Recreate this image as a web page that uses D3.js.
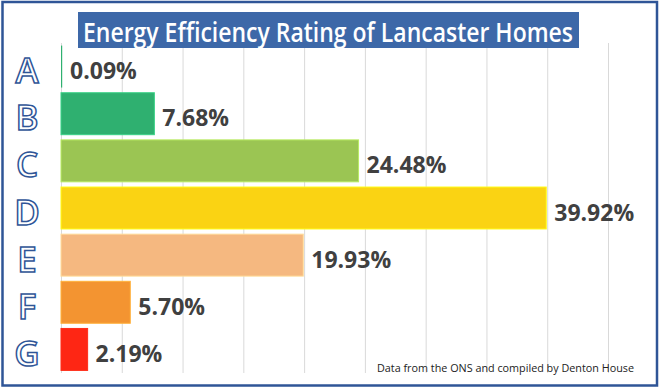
<!DOCTYPE html>
<html>
<head>
<meta charset="utf-8">
<script src="https://cdn.jsdelivr.net/npm/d3@7"></script>
<style>
  body { margin: 0; background: #fff; }
</style>
</head>
<body>
<div id="chart"></div>
<script>
var width = 662,
    height = 389;

// ratings and share of homes (%)
var ratings = ["A", "B", "C", "D", "E", "F", "G"];
var shares = [0.09, 7.68, 24.48, 39.92, 19.93, 5.70, 2.19];
var barColors = ["#2fb070", "#2fb070", "#9bc553", "#fad313", "#f5b880", "#f39431", "#fe2614"];
var gridTicks = [0, 5, 10, 15, 20, 25, 30, 35, 40, 45];

var titleText = "Energy Efficiency Rating of Lancaster Homes";
var sourceText = "Data from the ONS and compiled by Denton House";

var x = d3.scaleLinear()
    .domain([0, 45])
    .range([61, 608]);

var y = d3.scaleBand()
    .domain(ratings)
    .range([43, 373])
    .paddingInner(0.11)
    .paddingOuter(0.055);

var svg = d3.select("#chart").append("svg")
    .attr("width", width)
    .attr("height", height);

// gridlines
svg.selectAll(".grid")
    .data(gridTicks)
    .enter().append("line")
    .attr("class", "grid")
    .attr("x1", function (d) { return x(d) + 0.5; })
    .attr("x2", function (d) { return x(d) + 0.5; })
    .attr("y1", 43)
    .attr("y2", 373)
    .attr("stroke", "#d9d9d9")
    .attr("stroke-width", 1);

// bars
svg.selectAll(".bar")
    .data(ratings)
    .enter().append("rect")
    .attr("class", "bar")
    .attr("x", x(0))
    .attr("y", function (d) { return y(d); })
    .attr("width", function (d, i) { return Math.max(1.2, x(shares[i]) - x(0)); })
    .attr("height", y.bandwidth())
    .attr("fill", function (d, i) { return barColors[i]; })
    .attr("stroke", function (d, i) { return d3.color(barColors[i]).brighter(0.5); })
    .attr("stroke-width", function (d, i) { return i === 0 ? 0 : 1; });

// value labels
svg.selectAll(".val")
    .data(ratings)
    .enter().append("text")
    .attr("class", "val")
    .attr("x", function (d, i) { return x(shares[i]) + 8; })
    .attr("y", function (d) { return y(d) + y.bandwidth() / 2 + 12.5; })
    .attr("font-family", "Open Sans, sans-serif")
    .attr("font-weight", 700)
    .attr("font-size", 23)
    .attr("fill", "#404040")
    .text(function (d, i) { return shares[i].toFixed(2) + "%"; });

// outlined rating letters
svg.selectAll(".letter")
    .data(ratings)
    .enter().append("text")
    .attr("class", "letter")
    .attr("x", 27)
    .attr("y", function (d) { return y(d) + y.bandwidth() / 2 + 16.5; })
    .attr("text-anchor", "middle")
    .attr("font-family", "Open Sans, sans-serif")
    .attr("font-weight", 600)
    .attr("font-size", 35)
    .attr("fill", "#fff")
    .attr("stroke", "#2f5597")
    .attr("stroke-width", 1.5)
    .text(function (d) { return d; });

// title box
svg.append("rect")
    .attr("x", 78)
    .attr("y", 12)
    .attr("width", 501)
    .attr("height", 36)
    .attr("fill", "#3d68a8");

svg.append("text")
    .attr("x", 83)
    .attr("y", 42)
    .attr("textLength", 490)
    .attr("lengthAdjust", "spacingAndGlyphs")
    .attr("font-family", "Open Sans, sans-serif")
    .attr("font-weight", 600)
    .attr("font-size", 27)
    .attr("fill", "#fff")
    .text(titleText);

// source note
svg.append("text")
    .attr("x", 377)
    .attr("y", 372)
    .attr("textLength", 257)
    .attr("lengthAdjust", "spacingAndGlyphs")
    .attr("font-family", "Open Sans, sans-serif")
    .attr("font-size", 11.5)
    .attr("fill", "#222")
    .text(sourceText);

// frame
svg.append("rect")
    .attr("x", 2.5)
    .attr("y", 2)
    .attr("width", 654.5)
    .attr("height", 383.5)
    .attr("fill", "none")
    .attr("stroke", "#2f5597")
    .attr("stroke-width", 2.5);
</script>
</body>
</html>
